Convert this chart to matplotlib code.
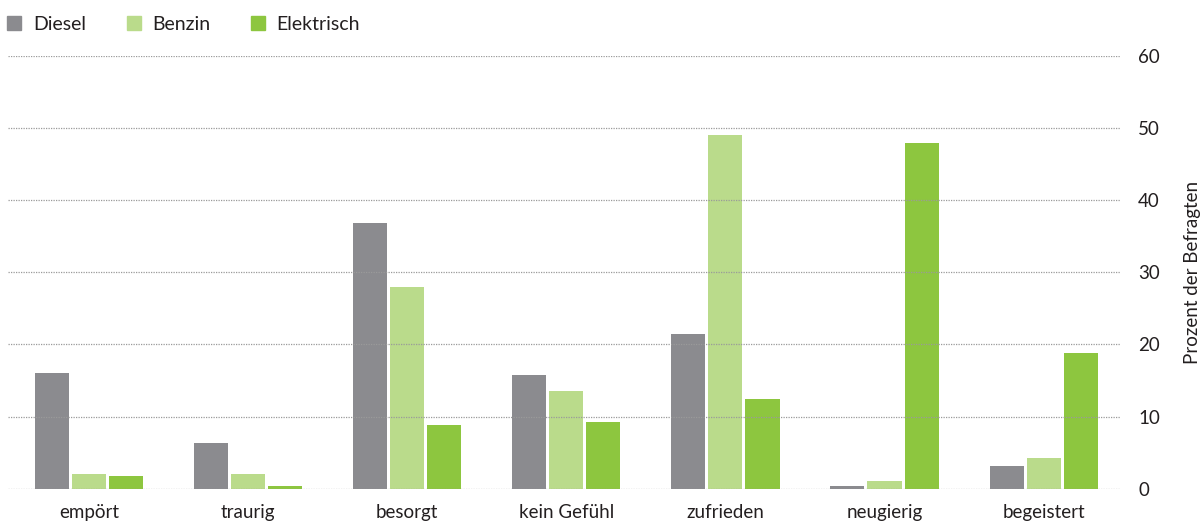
import numpy as np
import matplotlib.pyplot as plt
from matplotlib.lines import Line2D

plt.rcParams['font.family'] = ['Lato', 'DejaVu Sans']

categories = ['empört', 'traurig', 'besorgt', 'kein Gefühl', 'zufrieden', 'neugierig', 'begeistert']
series = ['Diesel', 'Benzin', 'Elektrisch']
diesel = [16.0, 6.3, 36.8, 15.7, 21.4, 0.4, 3.1]
benzin = [2.1, 2.1, 27.9, 13.5, 49.1, 1.0, 4.3]
elektrisch = [1.7, 0.4, 8.9, 9.3, 12.5, 47.9, 18.8]
yticks = [0, 10, 20, 30, 40, 50, 60]

colors = ['#8b8b8f', '#badb8b', '#8dc63f']
text_color = '#231f20'

fig = plt.figure(figsize=(12.04, 5.23), dpi=100)
ax = fig.add_axes([0.0066, 0.0656, 0.9236, 0.8274])

x = np.arange(len(categories))
pitch = 0.233
width = 0.214
for i, (vals, col) in enumerate(zip([diesel, benzin, elektrisch], colors)):
    ax.bar(x + (i - 1) * pitch, vals, width=width, color=col, zorder=1)

ax.set_xlim(-0.51, 6.48)
ax.set_ylim(0, 60)
ax.set_yticks(yticks)
ax.set_xticks(x)
ax.set_xticklabels(categories, fontsize=13.5, color=text_color)
ax.yaxis.tick_right()
ax.tick_params(axis='both', length=0, labelsize=13.5, labelcolor=text_color)
ax.tick_params(axis='y', pad=13)
ax.tick_params(axis='x', pad=11)
ax.grid(axis='y', linestyle=(0, (1, 1)), linewidth=0.9, color='#9a9a9a', zorder=3)
ax.set_axisbelow(False)
for s in ax.spines.values():
    s.set_visible(False)

fig.text(0.9905, 0.48, 'Prozent der Befragten', rotation=90, ha='center', va='center',
         fontsize=13.5, color=text_color)

handles = [Line2D([], [], marker='s', linestyle='', markersize=10, color=c) for c in colors]
fig.legend(handles, series, loc='upper left', bbox_to_anchor=(-0.009, 1.003), ncol=3,
           frameon=False, fontsize=14, handlelength=0.8, handletextpad=0.55,
           columnspacing=2.05, labelcolor=text_color)

fig.savefig('out.png', dpi=100)
